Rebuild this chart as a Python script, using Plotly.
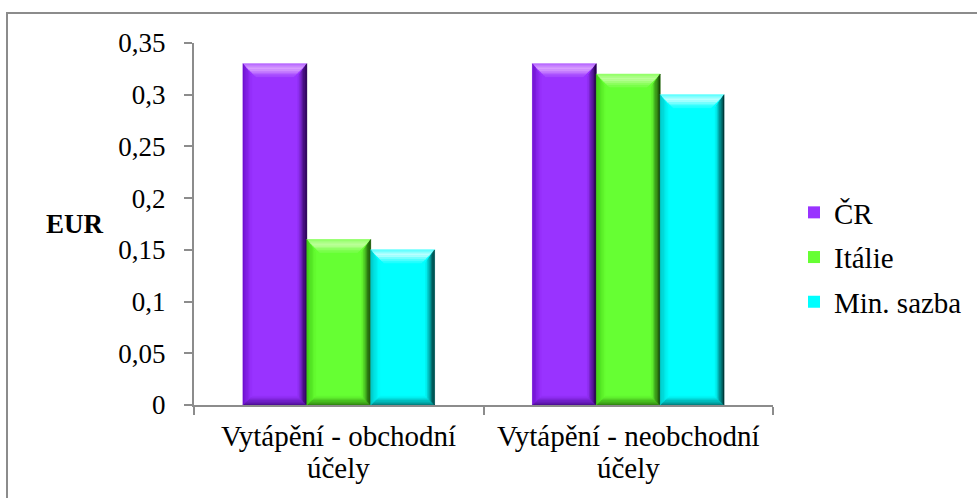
import plotly.graph_objects as go

# --- data -------------------------------------------------------------
categories = [["Vytápění - obchodní", "účely"], ["Vytápění - neobchodní", "účely"]]
series_names = ["ČR", "Itálie", "Min. sazba"]
cr_values = [0.33, 0.33]
italie_values = [0.16, 0.32]
min_sazba_values = [0.15, 0.30]
y_ticks = [0, 0.05, 0.1, 0.15, 0.2, 0.25, 0.3, 0.35]

# --- styling ----------------------------------------------------------
FONT = "Liberation Serif"
main_colors = ["#9933FF", "#66FF33", "#00FFFF"]
light_colors = ["#DDA8FF", "#C2FFA0", "#C8FFFF"]
dark_colors = ["#1E0040", "#143C04", "#002E2E"]
side_colors = ["#6E10CC", "#44C816", "#00C4C4"]
bottom_colors = ["#4A0E90", "#2E8010", "#007A7A"]

W, H = 977, 498
M_L, M_R, M_T, M_B = 194, 204, 43, 93
Y_MAX = 0.35
BARGAP = 0.338
AXIS_GRAY = "#8C8C8C"

plot_w = W - M_L - M_R
plot_h = H - M_T - M_B

series_values = [cr_values, italie_values, min_sazba_values]
cat_pos = list(range(len(categories)))
boundaries = [p - 0.5 for p in cat_pos] + [cat_pos[-1] + 0.5]
x_span = boundaries[-1] - boundaries[0]
px_x = x_span / plot_w       # one pixel in x data units
px_y = Y_MAX / plot_h        # one pixel in value units

fig = go.Figure()
for name, vals, col in zip(series_names, series_values, main_colors):
    fig.add_trace(go.Bar(
        x=cat_pos, y=vals, name=name, legendgroup=name,
        marker=dict(color=col, line=dict(width=0)),
        hoverinfo="skip",
    ))


def mix(c1, c2, t):
    t = max(0.0, min(1.0, t))
    a = [int(c1[i:i + 2], 16) for i in (1, 3, 5)]
    b = [int(c2[i:i + 2], 16) for i in (1, 3, 5)]
    return "#" + "".join(f"{round(a[k] + (b[k] - a[k]) * t):02X}" for k in range(3))


def face(pts, color):
    xs = [p[0] for p in pts] + [pts[0][0]]
    ys = [p[1] for p in pts] + [pts[0][1]]
    fig.add_trace(go.Scatter(
        x=xs, y=ys, mode="lines", fill="toself", fillcolor=color,
        line=dict(width=0.5, color=color), showlegend=False, hoverinfo="skip",
    ))


# bevelled faces on each bar, derived from the bar geometry
n_series = len(series_values)
bar_w = (1 - BARGAP) / n_series
side_bevel = 9
top_bevel = 13
steps = 7
for i, vals in enumerate(series_values):
    for j, v in enumerate(vals):
        xc = cat_pos[j] + (i - (n_series - 1) / 2) * bar_w
        x0, x1 = xc - bar_w / 2, xc + bar_w / 2
        y0, y1 = 0.0, v
        for s in range(steps):
            f0, f1 = s / steps, (s + 1) / steps
            t = (s + 0.5) / steps
            sx0, sx1 = side_bevel * f0 * px_x, side_bevel * f1 * px_x
            ty0, ty1 = top_bevel * f0 * px_y, top_bevel * f1 * px_y
            tx0, tx1 = top_bevel * f0 * px_x, top_bevel * f1 * px_x
            by0, by1 = side_bevel * f0 * px_y, side_bevel * f1 * px_y
            # top face: light band below the upper edge
            face([(x0 + tx0, y1 - ty0), (x1 - tx0, y1 - ty0),
                  (x1 - tx1, y1 - ty1), (x0 + tx1, y1 - ty1)],
                 mix(main_colors[i], light_colors[i], 1 - abs(t - 0.4) * 1.5))
            # bottom face
            face([(x0 + sx0, y0 + by0), (x1 - sx0, y0 + by0),
                  (x1 - sx1, y0 + by1), (x0 + sx1, y0 + by1)],
                 mix(bottom_colors[i], main_colors[i], t))
            # left face
            face([(x0 + sx0, y1 - ty0), (x0 + sx1, y1 - ty1),
                  (x0 + sx1, y0 + by1), (x0 + sx0, y0 + by0)],
                 mix(side_colors[i], main_colors[i], t))
            # right face: dark outer edge fading inwards
            face([(x1 - sx0, y1 - ty0), (x1 - sx0, y0 + by0),
                  (x1 - sx1, y0 + by1), (x1 - sx1, y1 - ty1)],
                 mix(dark_colors[i], main_colors[i], t ** 1.1))

# outer frame of the chart area
shapes = [dict(type="rect", xref="paper", yref="paper",
               x0=(7 - M_L) / plot_w, x1=(W + 10 - M_L) / plot_w,
               y0=-(H + 10 - M_T - plot_h) / plot_h, y1=(plot_h + M_T - 13) / plot_h,
               line=dict(color=AXIS_GRAY, width=2), fillcolor="rgba(0,0,0,0)",
               layer="below")]

# two-line category labels under each group
annotations = []
for pos, lines in zip(cat_pos, categories):
    for k, line in enumerate(lines):
        annotations.append(dict(
            text=line, xref="x", yref="paper", x=pos,
            y=-(31 + 32 * k) / plot_h, showarrow=False,
            xanchor="center", yanchor="middle",
            font=dict(family=FONT, size=29, color="black"),
        ))
annotations.append(dict(
    text="<b>EUR</b>", xref="paper", yref="paper",
    x=(75 - M_L) / plot_w, y=(405 - 224) / plot_h,
    showarrow=False, xanchor="center", yanchor="middle",
    font=dict(family=FONT, size=27, color="black"),
))

fig.update_layout(
    width=W, height=H,
    margin=dict(l=M_L, r=M_R, t=M_T, b=M_B, pad=0, autoexpand=False),
    paper_bgcolor="white", plot_bgcolor="white",
    barmode="group", bargap=BARGAP, bargroupgap=0,
    separators=", ",
    font=dict(family=FONT, size=27, color="black"),
    shapes=shapes,
    annotations=annotations,
    showlegend=True,
    legend=dict(
        x=(794 - M_L) / plot_w, y=(405 - 187) / plot_h,
        xanchor="left", yanchor="top",
        font=dict(family=FONT, size=29, color="black"),
        tracegroupgap=4, itemwidth=30,
        bgcolor="rgba(0,0,0,0)",
    ),
    xaxis=dict(
        range=[boundaries[0], boundaries[-1]],
        tickvals=cat_pos, ticktext=["" for _ in cat_pos], ticks="",
        minor=dict(tickvals=boundaries, ticks="outside", ticklen=8,
                   tickcolor=AXIS_GRAY, tickwidth=2, showgrid=False),
        showline=True, linecolor=AXIS_GRAY, linewidth=2,
        showgrid=False, zeroline=False,
    ),
    yaxis=dict(
        range=[0, Y_MAX], tickvals=y_ticks,
        showline=True, linecolor=AXIS_GRAY, linewidth=2,
        ticks="outside", ticklen=8, tickcolor=AXIS_GRAY, tickwidth=2,
        showgrid=False, zeroline=False,
        tickfont=dict(family=FONT, size=27, color="black"),
        ticklabelstandoff=13,
    ),
)

fig.write_html("out.html")
